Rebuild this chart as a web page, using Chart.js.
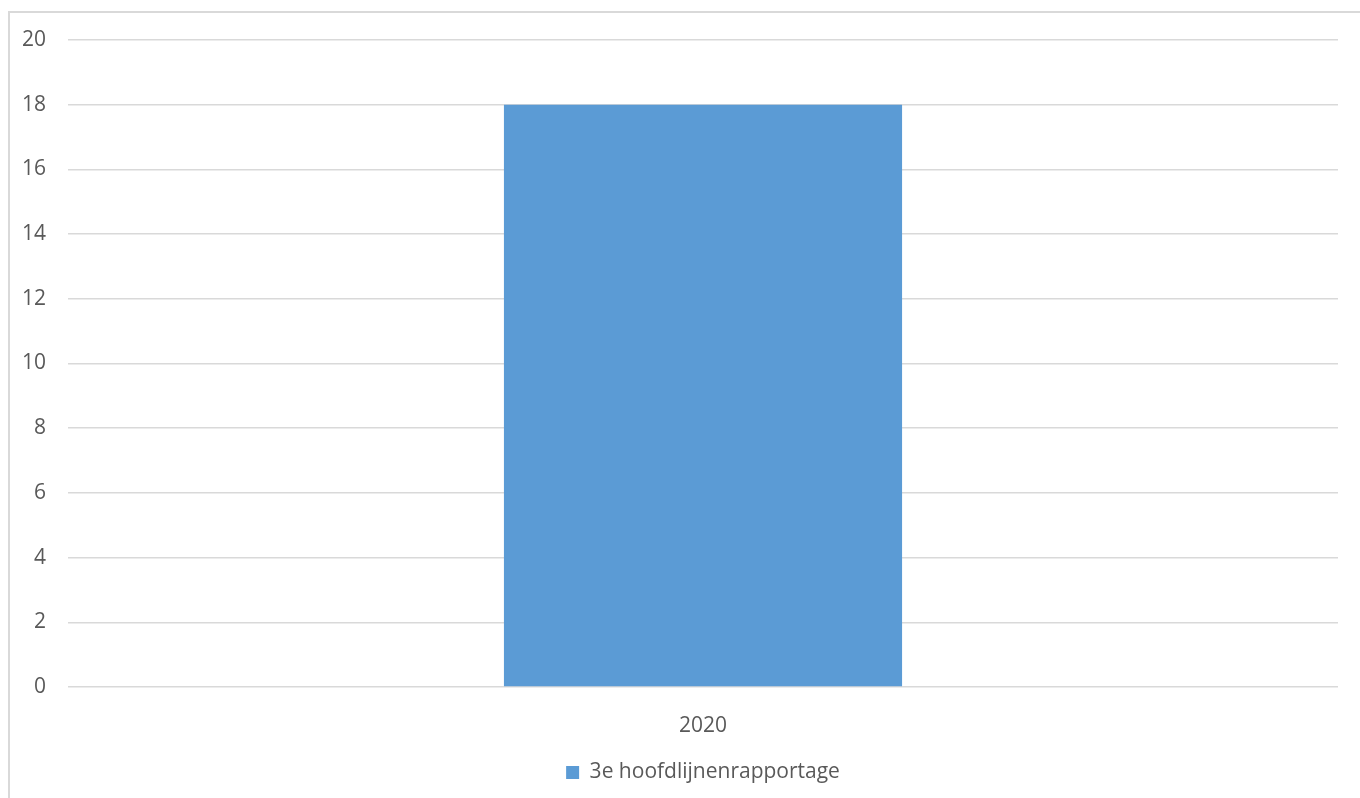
<!DOCTYPE html>
<html>
<head>
<meta charset="utf-8">
<script src="https://cdn.jsdelivr.net/npm/chart.js@4"></script>
<style>
  html, body { margin: 0; padding: 0; background: #fff; }
  #frame { position: absolute; left: 8px; top: 11px; width: 1360px; height: 800px;
           border-left: 2px solid #d9d9d9; border-top: 2px solid #d9d9d9; }
  #wrap { position: absolute; left: 0; top: 0; width: 1360px; height: 798px; }
</style>
</head>
<body>
<div id="frame"></div>
<div id="wrap"><canvas id="chart"></canvas></div>
<script>
var categories = ['2020'];
var seriesName = '3e hoofdlijnenrapportage';
var seriesValues = [18];

var ctx = document.getElementById('chart').getContext('2d');
var chart = new Chart(ctx, {
  type: 'bar',
  data: {
    labels: categories,
    datasets: [{
      label: seriesName,
      data: seriesValues,
      backgroundColor: '#5b9bd5',
      borderWidth: 0,
      categoryPercentage: 1,
      barPercentage: 0.3135
    }]
  },
  options: {
    responsive: true,
    maintainAspectRatio: false,
    animation: false,
    layout: { padding: { left: 0, right: 22, top: 40, bottom: 5 } },
    plugins: {
      tooltip: { enabled: false },
      legend: {
        position: 'bottom',
        fullSize: false,
        labels: {
          color: '#595959',
          font: { family: 'Open Sans', size: 21 },
          boxWidth: 13,
          boxHeight: 13,
          padding: 4
        }
      }
    },
    scales: {
      x: {
        grid: { display: false, drawTicks: false },
        border: { display: false },
        ticks: { color: '#595959', font: { family: 'Open Sans', size: 21 }, padding: 26 },
        afterFit: function (scale) { scale.height = 71; }
      },
      y: {
        min: 0,
        max: 20,
        grid: { color: '#d9d9d9', lineWidth: 1.5, drawTicks: false },
        border: { display: false },
        ticks: { stepSize: 2, color: '#595959', font: { family: 'Open Sans', size: 21 }, padding: 22 }
      }
    }
  }
});
</script>
</body>
</html>
